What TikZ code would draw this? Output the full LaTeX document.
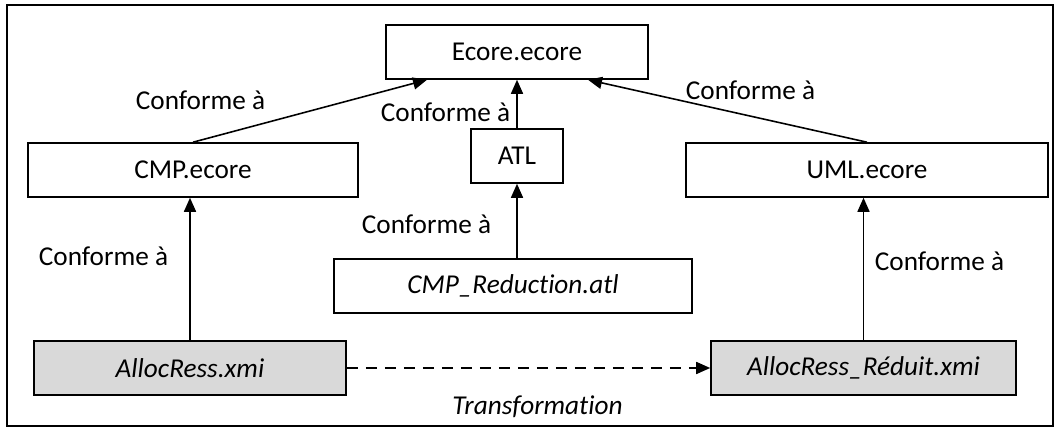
\documentclass[tikz,border=0pt]{standalone}
\usepackage{fontspec}
\setmainfont{Carlito}[Ligatures=NoCommon]
\usetikzlibrary{arrows.meta,positioning,calc}
\definecolor{cfill}{HTML}{D9D9D9}

\begin{document}
\begin{tikzpicture}[
      box/.style={draw, line width=0.9pt, minimum height=1.08cm, inner sep=0pt, font=\fontsize{15.5}{18}\selectfont},
      lbl/.style={inner sep=0pt, font=\fontsize{15.5}{18}\selectfont},
      arr/.style={-{Triangle[length=2.8mm,width=2.4mm]}, line width=0.9pt}
    ]
    \useasboundingbox (0,0) rectangle (21.2,8.64);
    \draw[line width=1pt] (0.14,0.12) rectangle (21.06,8.54);
    \node[box, minimum width=5.24cm] (ecore) at (10.34,7.6) {Ecore.ecore};
    \node[box, minimum width=6.6cm] (cmp) at (3.86,5.24) {CMP.ecore};
    \node[box, minimum width=1.84cm] (atl) at (10.34,5.52) {ATL};
    \node[box, minimum width=7.24cm] (uml) at (17.34,5.24) {UML.ecore};
    \node[box, minimum width=7.16cm] (red) at (10.26,2.92) {\itshape CMP\_Reduction.atl};
    \node[box, minimum width=6.24cm, fill=cfill] (alloc) at (3.8,1.28) {\itshape AllocRess.xmi};
    \node[box, minimum width=6.1cm, fill=cfill] (reduit) at (17.27,1.28) {\itshape AllocRess\_Réduit.xmi};
    \node[lbl] (l1) at (4.01,6.64) {Conforme à};
    \node[lbl] (l2) at (8.91,6.4) {Conforme à};
    \node[lbl] (l3) at (15.01,6.84) {Conforme à};
    \node[lbl] (l4) at (8.53,4.16) {Conforme à};
    \node[lbl] (l5) at (2.07,3.52) {Conforme à};
    \node[lbl] (l6) at (18.79,3.42) {Conforme à};
    \node[lbl] (tr) at (10.75,0.5) {\itshape Transformation};
    \draw[arr] (cmp.north) -- ([xshift=-1.8cm]ecore.south);
    \draw[arr] (atl.north) -- (ecore.south);
    \draw[arr] (uml.north) -- ([xshift=1.42cm]ecore.south);
    \draw[arr] (atl.south |- red.north) -- (atl.south);
    \draw[arr] (alloc.north) -- (alloc.north |- cmp.south);
    \draw[arr] (reduit.north) -- (reduit.north |- uml.south);
    \draw[arr, dashed, dash pattern=on 2.2mm off 1.6mm] (alloc.east) -- (reduit.west);
  \end{tikzpicture}
\end{document}
